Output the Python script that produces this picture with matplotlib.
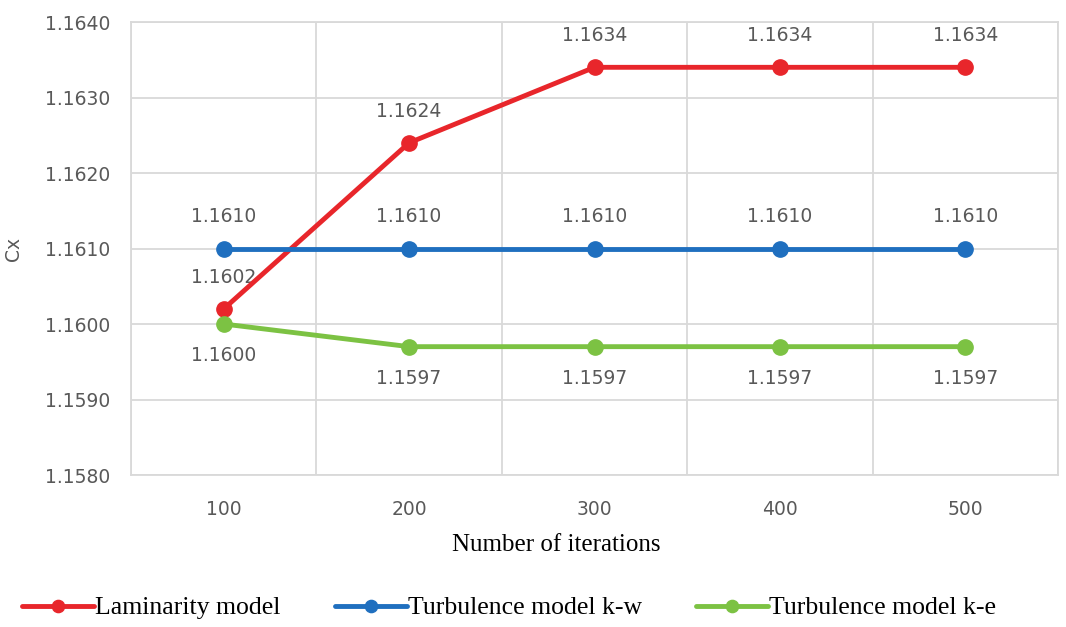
import numpy as np
import matplotlib.pyplot as plt
from matplotlib.ticker import MultipleLocator, FixedLocator

iterations = ['100', '200', '300', '400', '500']
laminar = [1.1602, 1.1624, 1.1634, 1.1634, 1.1634]
turb_kw = [1.1610, 1.1610, 1.1610, 1.1610, 1.1610]
turb_ke = [1.1600, 1.1597, 1.1597, 1.1597, 1.1597]

red = '#e8262b'
blue = '#1f6fbf'
green = '#7cc243'
grid_c = '#d9d9d9'
txt_c = '#595959'

fig = plt.figure(figsize=(10.66, 6.27), dpi=100)
ax = fig.add_axes([0.1229, 0.2424, 0.8696, 0.7225])

x = np.arange(len(iterations))
series = [
    (laminar, red, 'Laminarity model', 16),
    (turb_kw, blue, 'Turbulence model k-w', 16),
    (turb_ke, green, 'Turbulence model k-e', -16),
]

# value labels first so the lines sit on top of them
for vals, col, name, off in series:
    for xi, v in zip(x, vals):
        ax.annotate('%.4f' % v, (xi, v), xytext=(0, off), textcoords='offset points',
                    ha='center', va='bottom' if off > 0 else 'top',
                    fontsize=13.5, color=txt_c, family='DejaVu Sans', zorder=2)

for vals, col, name, off in series:
    ax.plot(x, vals, color=col, lw=3.5, marker='o', markersize=11, label=name,
            solid_capstyle='round', zorder=3)

ax.set_xlim(-0.5, 4.5)
ax.set_ylim(1.1580, 1.1640)
ax.yaxis.set_major_locator(MultipleLocator(0.001))
ax.yaxis.set_major_formatter(plt.FuncFormatter(lambda v, p: '%.4f' % v))
ax.set_xticks(x)
ax.set_xticklabels(iterations)
ax.xaxis.set_minor_locator(FixedLocator(np.arange(-0.5, 5, 1.0)))

ax.grid(axis='y', which='major', color=grid_c, lw=1.3)
ax.grid(axis='x', which='minor', color=grid_c, lw=1.3)
ax.set_axisbelow(True)
for s in ax.spines.values():
    s.set_color(grid_c)
    s.set_linewidth(1.3)
ax.tick_params(which='both', length=0, labelsize=13.5, labelcolor=txt_c, pad=15)
ax.tick_params(axis='x', pad=18)

ax.set_ylabel('Cx', family='DejaVu Sans', fontsize=13.5, color=txt_c, labelpad=16)
fig.text(556 / 1066, 1 - 545 / 627, 'Number of iterations', ha='center', va='center',
         family='Liberation Serif', fontsize=18)

fig.legend(loc='center left', bbox_to_anchor=(22 / 1066, 1 - 608 / 627), ncol=3,
           frameon=False, prop={'family': 'Liberation Serif', 'size': 18.5},
           handlelength=2.8, handletextpad=0.05, columnspacing=2.1,
           borderpad=0, borderaxespad=0, markerscale=0.8)

fig.savefig('out.png', dpi=100)
